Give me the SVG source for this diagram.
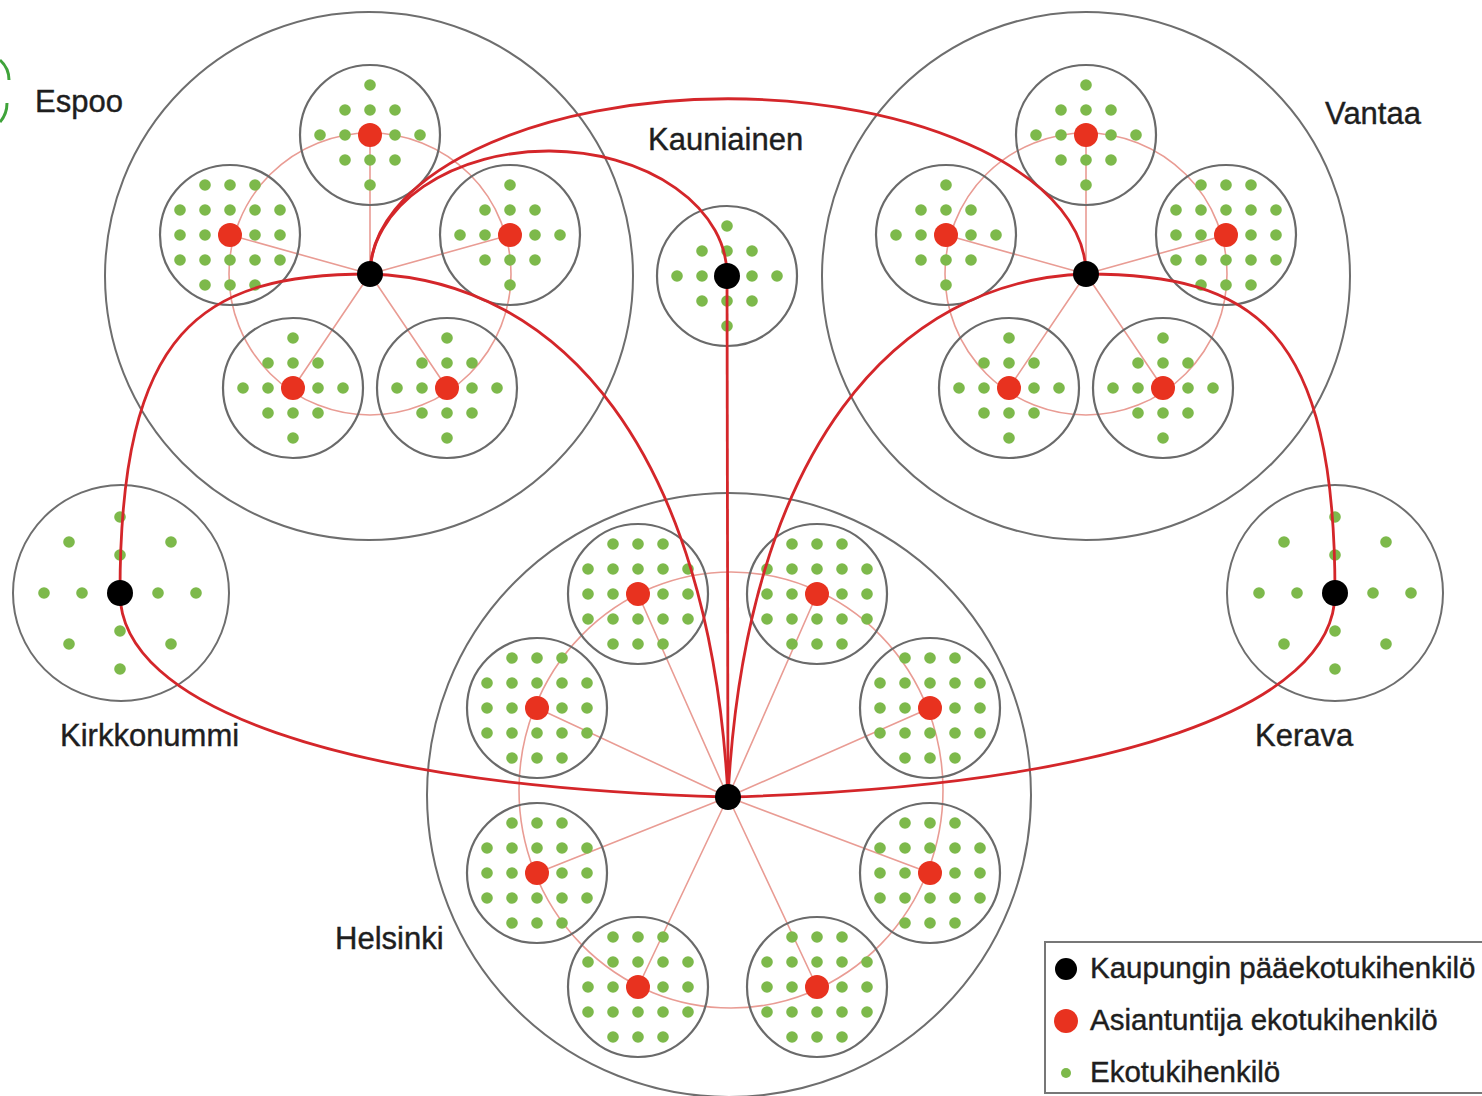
<svg xmlns="http://www.w3.org/2000/svg" xmlns:xlink="http://www.w3.org/1999/xlink" width="1482" height="1096" viewBox="0 0 1482 1096">
<style>
.big{fill:none;stroke:#6e6e6e;stroke-width:2}
.sub{fill:none;stroke:#6a6a6a;stroke-width:2.2}
.thin{fill:none;stroke:#e99c94;stroke-width:1.6}
.conn{fill:none;stroke:#d4262a;stroke-width:2.8}
.g{fill:#7db94b}
.r{fill:#e8321f}
.k{fill:#000}
.lbl{font-family:"Liberation Sans",Arial,sans-serif;font-size:31px;fill:#1e1e1e;stroke:#1e1e1e;stroke-width:0.4}
.leg{font-family:"Liberation Sans",Arial,sans-serif;font-size:29.5px;fill:#1e1e1e;stroke:#1e1e1e;stroke-width:0.4}
</style>
<defs>
<g id="dia" class="g">
<circle cx="0" cy="-50" r="5.8"/><circle cx="-25" cy="-25" r="5.8"/><circle cx="0" cy="-25" r="5.8"/><circle cx="25" cy="-25" r="5.8"/>
<circle cx="-50" cy="0" r="5.8"/><circle cx="-25" cy="0" r="5.8"/><circle cx="25" cy="0" r="5.8"/><circle cx="50" cy="0" r="5.8"/>
<circle cx="-25" cy="25" r="5.8"/><circle cx="0" cy="25" r="5.8"/><circle cx="25" cy="25" r="5.8"/><circle cx="0" cy="50" r="5.8"/>
</g>
<g id="grid" class="g">
<circle cx="-25" cy="-50" r="5.8"/><circle cx="0" cy="-50" r="5.8"/><circle cx="25" cy="-50" r="5.8"/>
<circle cx="-50" cy="-25" r="5.8"/><circle cx="-25" cy="-25" r="5.8"/><circle cx="0" cy="-25" r="5.8"/><circle cx="25" cy="-25" r="5.8"/><circle cx="50" cy="-25" r="5.8"/>
<circle cx="-50" cy="0" r="5.8"/><circle cx="-25" cy="0" r="5.8"/><circle cx="25" cy="0" r="5.8"/><circle cx="50" cy="0" r="5.8"/>
<circle cx="-50" cy="25" r="5.8"/><circle cx="-25" cy="25" r="5.8"/><circle cx="0" cy="25" r="5.8"/><circle cx="25" cy="25" r="5.8"/><circle cx="50" cy="25" r="5.8"/>
<circle cx="-25" cy="50" r="5.8"/><circle cx="0" cy="50" r="5.8"/><circle cx="25" cy="50" r="5.8"/>
</g>
<g id="star" class="g">
<circle cx="0" cy="-76" r="5.8"/><circle cx="0" cy="-38" r="5.8"/><circle cx="0" cy="38" r="5.8"/><circle cx="0" cy="76" r="5.8"/>
<circle cx="-76" cy="0" r="5.8"/><circle cx="-38" cy="0" r="5.8"/><circle cx="38" cy="0" r="5.8"/><circle cx="76" cy="0" r="5.8"/>
<circle cx="-51" cy="-51" r="5.8"/><circle cx="51" cy="-51" r="5.8"/><circle cx="-51" cy="51" r="5.8"/><circle cx="51" cy="51" r="5.8"/>
</g>
</defs>
<rect width="1482" height="1096" fill="#fff"/>
<g id="logo-fragment" fill="none" stroke="#3fa33a" stroke-width="3">
<path d="M0,60 Q9,68 9,80"/>
<path d="M0,122 Q7,114 7,103"/>
</g>

<g id="espoo">
<circle class="big" cx="369" cy="276" r="264"/>
<circle class="thin" cx="370" cy="274" r="141"/>
<path class="thin" d="M370,274 L370,135 M370,274 L230,235 M370,274 L510,235 M370,274 L293,388 M370,274 L447,388"/>
<circle class="sub" cx="370" cy="135" r="70"/><circle class="sub" cx="230" cy="235" r="70"/><circle class="sub" cx="510" cy="235" r="70"/><circle class="sub" cx="293" cy="388" r="70"/><circle class="sub" cx="447" cy="388" r="70"/>
<use href="#dia" x="370" y="135"/><use href="#grid" x="230" y="235"/><use href="#dia" x="510" y="235"/><use href="#dia" x="293" y="388"/><use href="#dia" x="447" y="388"/>
<g class="r"><circle cx="370" cy="135" r="12"/><circle cx="230" cy="235" r="12"/><circle cx="510" cy="235" r="12"/><circle cx="293" cy="388" r="12"/><circle cx="447" cy="388" r="12"/></g>
<text class="lbl" x="35" y="112">Espoo</text>
</g>

<g id="vantaa">
<circle class="big" cx="1086" cy="276" r="264"/>
<circle class="thin" cx="1086" cy="274" r="141"/>
<path class="thin" d="M1086,274 L1086,135 M1086,274 L946,235 M1086,274 L1226,235 M1086,274 L1009,388 M1086,274 L1163,388"/>
<circle class="sub" cx="1086" cy="135" r="70"/><circle class="sub" cx="946" cy="235" r="70"/><circle class="sub" cx="1226" cy="235" r="70"/><circle class="sub" cx="1009" cy="388" r="70"/><circle class="sub" cx="1163" cy="388" r="70"/>
<use href="#dia" x="1086" y="135"/><use href="#dia" x="946" y="235"/><use href="#grid" x="1226" y="235"/><use href="#dia" x="1009" y="388"/><use href="#dia" x="1163" y="388"/>
<g class="r"><circle cx="1086" cy="135" r="12"/><circle cx="946" cy="235" r="12"/><circle cx="1226" cy="235" r="12"/><circle cx="1009" cy="388" r="12"/><circle cx="1163" cy="388" r="12"/></g>
<text class="lbl" x="1325" y="124">Vantaa</text>
</g>

<g id="kauniainen">
<circle class="sub" cx="727" cy="276" r="70"/>
<use href="#dia" x="727" y="276"/>
<text class="lbl" x="648" y="150">Kauniainen</text>
</g>

<g id="kirkkonummi">
<circle class="big" cx="121" cy="593" r="108"/>
<use href="#star" x="120" y="593"/>
<text class="lbl" x="60" y="746">Kirkkonummi</text>
</g>

<g id="kerava">
<circle class="big" cx="1335" cy="593" r="108"/>
<use href="#star" x="1335" y="593"/>
<text class="lbl" x="1255" y="746">Kerava</text>
</g>

<g id="helsinki">
<circle class="big" cx="729" cy="795" r="302"/>
<ellipse class="thin" cx="731" cy="790" rx="212" ry="218"/>
<path class="thin" d="M728,797 L638,594 M728,797 L817,594 M728,797 L537,708 M728,797 L930,708 M728,797 L537,873 M728,797 L930,873 M728,797 L638,987 M728,797 L817,987"/>
<circle class="sub" cx="638" cy="594" r="70"/><circle class="sub" cx="817" cy="594" r="70"/><circle class="sub" cx="537" cy="708" r="70"/><circle class="sub" cx="930" cy="708" r="70"/>
<circle class="sub" cx="537" cy="873" r="70"/><circle class="sub" cx="930" cy="873" r="70"/><circle class="sub" cx="638" cy="987" r="70"/><circle class="sub" cx="817" cy="987" r="70"/>
<use href="#grid" x="638" y="594"/><use href="#grid" x="817" y="594"/><use href="#grid" x="537" y="708"/><use href="#grid" x="930" y="708"/>
<use href="#grid" x="537" y="873"/><use href="#grid" x="930" y="873"/><use href="#grid" x="638" y="987"/><use href="#grid" x="817" y="987"/>
<g class="r"><circle cx="638" cy="594" r="12"/><circle cx="817" cy="594" r="12"/><circle cx="537" cy="708" r="12"/><circle cx="930" cy="708" r="12"/><circle cx="537" cy="873" r="12"/><circle cx="930" cy="873" r="12"/><circle cx="638" cy="987" r="12"/><circle cx="817" cy="987" r="12"/></g>
<text class="lbl" x="335" y="949">Helsinki</text>
</g>

<g id="connectors">
<path class="conn" d="M370,274 A357.5,175 0 0 1 1086,274"/>
<path class="conn" d="M370,274 A178.5,124 0 0 1 727,276"/>
<path class="conn" d="M370,274 C200,274 120,330 120,593"/>
<path class="conn" d="M370,274 C560,280 710,450 728,797"/>
<path class="conn" d="M727,276 L728,797"/>
<path class="conn" d="M1086,274 C896,280 746,450 728,797"/>
<path class="conn" d="M1086,274 C1256,274 1335,330 1335,593"/>
<path class="conn" d="M120,593 C120,705 335,786 728,797"/>
<path class="conn" d="M1335,593 C1335,705 1120,786 728,797"/>
</g>

<g id="hubs" class="k">
<circle id="espoo-hub" cx="370" cy="274" r="13"/>
<circle id="vantaa-hub" cx="1086" cy="274" r="13"/>
<circle id="kauniainen-hub" cx="727" cy="276" r="13"/>
<circle id="kirkkonummi-hub" cx="120" cy="593" r="13"/>
<circle id="kerava-hub" cx="1335" cy="593" r="13"/>
<circle id="helsinki-hub" cx="728" cy="797" r="13"/>
</g>

<g id="legend">
<rect x="1045" y="942" width="445" height="151" fill="#fff" stroke="#777" stroke-width="2"/>
<circle class="k" cx="1066" cy="969" r="11"/>
<text class="leg" x="1090" y="978">Kaupungin pääekotukihenkilö</text>
<circle class="r" cx="1066" cy="1021" r="12"/>
<text class="leg" x="1090" y="1030">Asiantuntija ekotukihenkilö</text>
<circle class="g" cx="1066" cy="1073" r="5"/>
<text class="leg" x="1090" y="1082">Ekotukihenkilö</text>
</g>
</svg>
